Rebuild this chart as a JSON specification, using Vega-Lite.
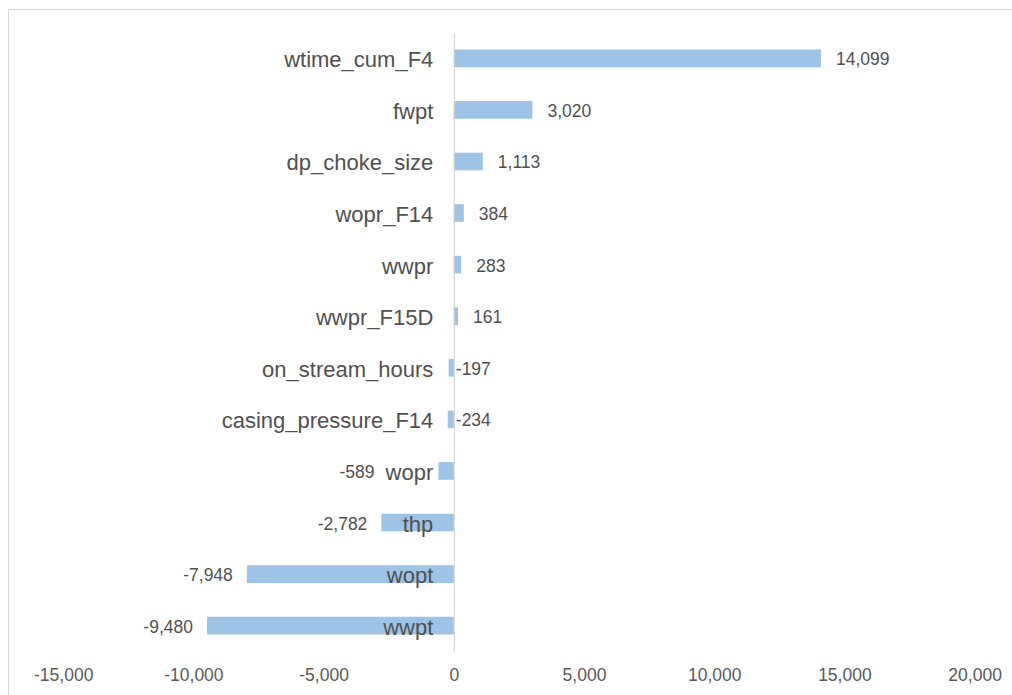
{
  "$schema": "https://vega.github.io/schema/vega-lite/v6.json",
  "autosize": "none",
  "padding": {"left": 8, "top": 9, "right": 0, "bottom": 0},
  "width": 1004,
  "height": 686,
  "background": "#ffffff",
  "config": {
    "view": {"stroke": "#d9d9d9", "strokeWidth": 1},
    "font": "Liberation Sans",
    "locale": {
      "number": {"decimal": ".", "thousands": ",", "grouping": [3], "currency": ["$", ""], "minus": "-"}
    }
  },
  "data": {
    "values": [
      {"feature": "wtime_cum_F4", "importance": 14099},
      {"feature": "fwpt", "importance": 3020},
      {"feature": "dp_choke_size", "importance": 1113},
      {"feature": "wopr_F14", "importance": 384},
      {"feature": "wwpr", "importance": 283},
      {"feature": "wwpr_F15D", "importance": 161},
      {"feature": "on_stream_hours", "importance": -197},
      {"feature": "casing_pressure_F14", "importance": -234},
      {"feature": "wopr", "importance": -589},
      {"feature": "thp", "importance": -2782},
      {"feature": "wopt", "importance": -7948},
      {"feature": "wwpt", "importance": -9480}
    ]
  },
  "encoding": {
    "y": {
      "field": "feature",
      "type": "nominal",
      "sort": null,
      "scale": {"range": [24, 642], "paddingInner": 0.657, "paddingOuter": 0.32},
      "axis": {
        "title": null,
        "offset": -445.8,
        "domain": true,
        "domainColor": "#d0d0d0",
        "domainWidth": 1,
        "ticks": false,
        "grid": false,
        "labelPadding": 21,
        "labelOffset": 2,
        "labelLimit": 0,
        "labelFontSize": 22,
        "labelColor": "#505050",
        "labelFont": "Liberation Sans",
        "zindex": 2
      }
    }
  },
  "layer": [
    {
      "mark": {"type": "bar", "color": "#9dc3e6"},
      "encoding": {
        "x": {
          "field": "importance",
          "type": "quantitative",
          "scale": {"domain": [-17120, 21436], "nice": false, "zero": false},
          "axis": {
            "title": null,
            "values": [-15000, -10000, -5000, 0, 5000, 10000, 15000, 20000],
            "format": ",d",
            "offset": -44,
            "domain": false,
            "ticks": false,
            "grid": false,
            "labelPadding": 15,
            "labelFontSize": 17.5,
            "labelColor": "#595959",
            "labelFont": "Liberation Sans",
            "labelFlush": false,
            "zindex": 1
          }
        }
      }
    },
    {
      "transform": [{"filter": "datum.importance > 0"}],
      "mark": {"type": "text", "align": "left", "baseline": "middle", "dx": 15, "dy": 2, "fontSize": 17.5, "color": "#505050"},
      "encoding": {
        "x": {"field": "importance", "type": "quantitative"},
        "text": {"field": "importance", "type": "quantitative", "format": ",d"}
      }
    },
    {
      "transform": [{"filter": "datum.importance < 0 && datum.importance > -300"}],
      "mark": {"type": "text", "align": "left", "baseline": "middle", "dx": 2, "dy": 2, "fontSize": 17.5, "color": "#505050"},
      "encoding": {
        "x": {"datum": 0, "type": "quantitative"},
        "text": {"field": "importance", "type": "quantitative", "format": ",d"}
      }
    },
    {
      "transform": [{"filter": "datum.importance <= -300 && datum.importance > -1000"}],
      "mark": {"type": "text", "align": "right", "baseline": "middle", "dx": -64, "dy": 2, "fontSize": 17.5, "color": "#505050"},
      "encoding": {
        "x": {"field": "importance", "type": "quantitative"},
        "text": {"field": "importance", "type": "quantitative", "format": ",d"}
      }
    },
    {
      "transform": [{"filter": "datum.importance <= -1000"}],
      "mark": {"type": "text", "align": "right", "baseline": "middle", "dx": -14, "dy": 2, "fontSize": 17.5, "color": "#505050"},
      "encoding": {
        "x": {"field": "importance", "type": "quantitative"},
        "text": {"field": "importance", "type": "quantitative", "format": ",d"}
      }
    }
  ]
}
